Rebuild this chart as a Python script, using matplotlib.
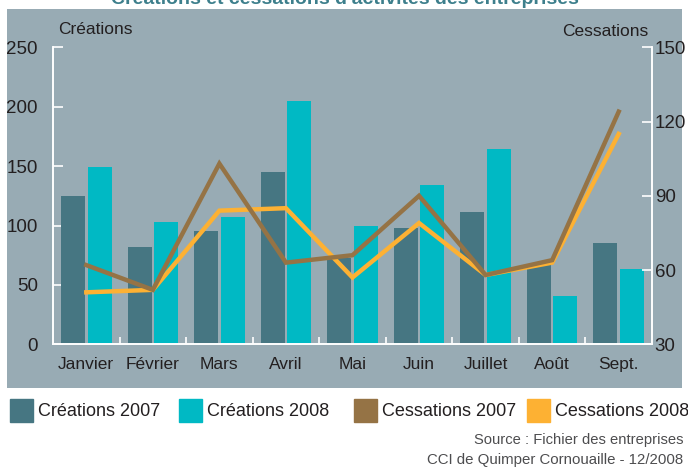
import numpy as np
import matplotlib
matplotlib.use("Agg")
import matplotlib.pyplot as plt
from matplotlib.patches import Rectangle

# Data
#
mois = ["Janvier", "Février", "Mars", "Avril", "Mai", "Juin", "Juillet", "Août", "Sept."]
creations_2007 = [125, 82, 95, 145, 73, 98, 111, 67, 85]
creations_2008 = [149, 103, 107, 205, 100, 134, 164, 41, 63]
cessations_2007 = [62, 52, 103, 63, 66, 90, 58, 64, 124]
cessations_2008 = [51, 52, 84, 85, 57, 79, 58, 63, 115]

# Colours
#
BG = "#98abb4"
C_DARK = "#467682"
C_CYAN = "#00b9c4"
C_BROWN = "#957345"
C_ORANGE = "#fdb133"
TXT = "#231f20"

plt.rcParams["font.family"] = ["Liberation Sans", "DejaVu Sans"]

fig = plt.figure(figsize=(6.88, 4.68), dpi=100)
W, H = 688, 468

# Grey panel behind the chart (an empty axes used as background)
#
bg = fig.add_axes([7 / W, 1 - 388 / H, 675 / W, 379 / H], zorder=-5)
bg.set_facecolor(BG)
bg.set_xticks([])
bg.set_yticks([])
for s in bg.spines.values():
    s.set_visible(False)

# Title, cut off at the top like the original
#
fig.text(345 / W, 1 - 4 / H, "Créations et cessations d'activités des entreprises",
         ha="center", va="baseline", fontsize=14, fontweight="bold", color="#3d7f8c")

ax = fig.add_axes([53 / W, 1 - 344.3 / H, 599 / W, 297 / H])
ax.set_facecolor("none")
ax2 = ax.twinx()

x = np.arange(len(mois))
bw = 0.36
ax.bar(x - 0.2, creations_2007, bw, color=C_DARK, zorder=2)
ax.bar(x + 0.2, creations_2008, bw, color=C_CYAN, zorder=2)

ax2.plot(x, cessations_2008, color=C_ORANGE, lw=3.2, solid_joinstyle="miter", zorder=3)
ax2.plot(x, cessations_2007, color=C_BROWN, lw=3.2, solid_joinstyle="miter", zorder=4)

ax.set_xlim(-0.5, len(mois) - 0.5)
ax.set_ylim(0, 250)
ax2.set_ylim(30, 150)
ax.set_yticks([0, 50, 100, 150, 200, 250])
ax2.set_yticks([30, 60, 90, 120, 150])

# Month labels in the middle, ticks on the boundaries
#
ax.set_xticks(np.arange(0.5, len(mois) - 0.5), minor=False)
ax.set_xticklabels([])
ax.set_xticks(x, minor=True)
ax.set_xticklabels(mois, minor=True, fontsize=12.5, color=TXT)
ax.tick_params(axis="x", which="minor", length=0, pad=9)
ax.tick_params(axis="x", which="major", direction="in", length=5, color="white", width=1.2)

ax.tick_params(axis="y", direction="in", length=7, color="white", width=1.2,
               labelsize=13.5, labelcolor=TXT, pad=11)
ax2.tick_params(axis="y", direction="in", length=7, color="white", width=1.2,
                labelsize=13.5, labelcolor=TXT, pad=2)

for a in (ax, ax2):
    a.spines["top"].set_visible(False)
    for side in ("left", "right", "bottom"):
        a.spines[side].set_color("white")
        a.spines[side].set_linewidth(1.2)

fig.text(58 / W, 1 - 30 / H, "Créations", fontsize=12.5, color=TXT, va="center")
fig.text(648 / W, 1 - 32 / H, "Cessations", fontsize=12.5, color=TXT, va="center", ha="right")

# Legend: square patches and labels placed one by one
#
leg_colors = [C_DARK, C_CYAN, C_BROWN, C_ORANGE]
leg_labels = ["Créations 2007", "Créations 2008", "Cessations 2007", "Cessations 2008"]
leg_x = [10, 179, 354, 527]
for lx, c, lab in zip(leg_x, leg_colors, leg_labels):
    fig.patches.append(Rectangle((lx / W, 1 - 422 / H), 23 / W, 23 / H,
                                 transform=fig.transFigure, color=c))
    fig.text((lx + 28) / W, 1 - 411 / H, lab, fontsize=13, color=TXT, va="center")

fig.text(683 / W, 1 - 440 / H, "Source : Fichier des entreprises",
         ha="right", va="center", fontsize=10.6, color="#4d4d4f")
fig.text(683 / W, 1 - 460 / H, "CCI de Quimper Cornouaille - 12/2008",
         ha="right", va="center", fontsize=10.8, color="#4d4d4f")

fig.savefig("out.png", dpi=100, facecolor="white")
